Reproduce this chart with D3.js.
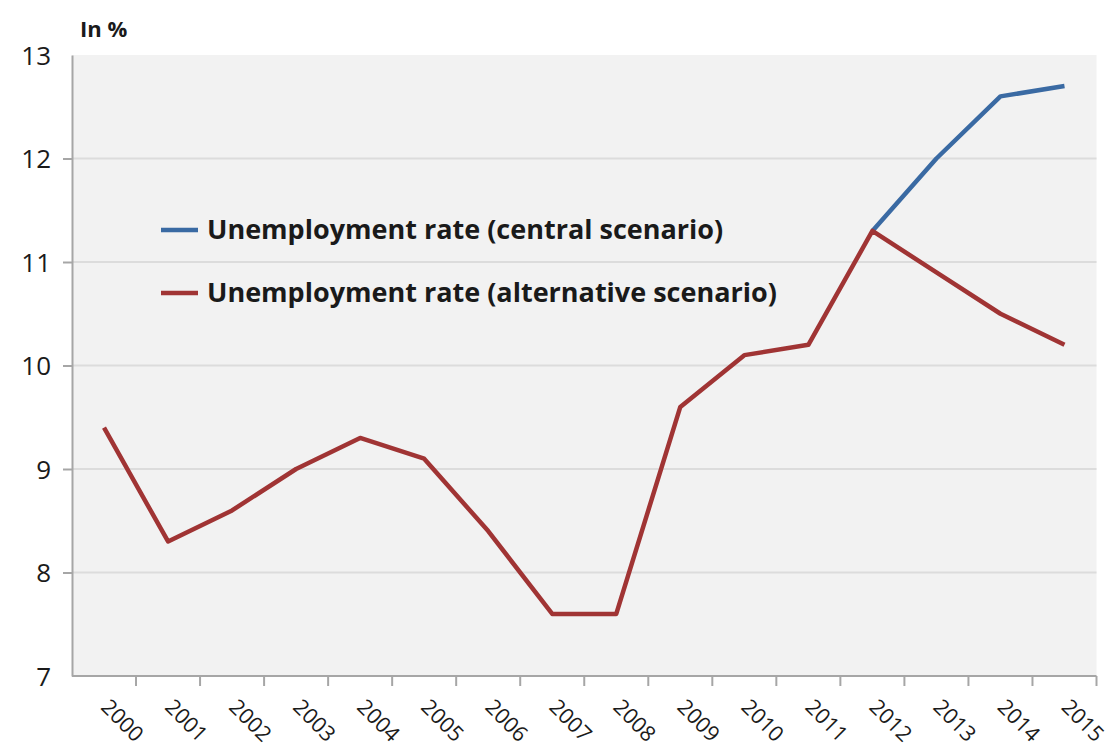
<!DOCTYPE html>
<html lang="en">
<head>
    <meta charset="UTF-8">
    <title>Unemployment rate scenarios</title>
    <style>
        body { margin: 0; background: #fff; }
        text { font-family: "Open Sans", Lato, sans-serif; fill: #1a1a1a; }
        .grid line { stroke: #dcdcdc; stroke-width: 2px; }
        .axis path, .axis line { stroke: #a6a6a6; stroke-width: 2px; }
    </style>
    <script src="https://d3js.org/d3.v7.min.js"></script>
</head>
<body>
    <script>
        const years = ["2000", "2001", "2002", "2003", "2004", "2005", "2006", "2007",
                       "2008", "2009", "2010", "2011", "2012", "2013", "2014", "2015"];
        const central = [null, null, null, null, null, null, null, null,
                         null, null, null, null, 11.3, 12.0, 12.6, 12.7];
        const alternative = [9.4, 8.3, 8.6, 9.0, 9.3, 9.1, 8.4, 7.6,
                             7.6, 9.6, 10.1, 10.2, 11.3, 10.9, 10.5, 10.2];
        const yTicks = [7, 8, 9, 10, 11, 12, 13];
        const seriesNames = ["Unemployment rate (central scenario)", "Unemployment rate (alternative scenario)"];
        const colors = ["#3a6aa3", "#a03434"];

        const width = 1112, height = 749;
        const margin = {top: 55, right: 15, bottom: 73, left: 72};

        const svg = d3.select("body").append("svg")
            .attr("width", width)
            .attr("height", height);

        const x = d3.scaleBand().domain(years)
            .range([margin.left, width - margin.right - 0.5]);
        const y = d3.scaleLinear().domain([7, 13])
            .range([height - margin.bottom, margin.top]);

        // plot background
        svg.append("rect")
            .attr("x", margin.left).attr("y", margin.top)
            .attr("width", x.range()[1] - margin.left)
            .attr("height", y(7) - y(13))
            .attr("fill", "#f2f2f2");

        // gridlines
        svg.append("g").attr("class", "grid")
            .selectAll("line").data(yTicks.filter(d => d > 7 && d < 13)).enter().append("line")
            .attr("x1", margin.left).attr("x2", x.range()[1])
            .attr("y1", d => y(d)).attr("y2", d => y(d));

        // y axis
        const yAxis = svg.append("g").attr("class", "axis")
            .attr("transform", `translate(${margin.left},0)`)
            .call(d3.axisLeft(y).tickValues(yTicks).tickFormat(d3.format("d"))
                .tickSize(9).tickSizeOuter(0).tickPadding(12));
        yAxis.selectAll("text").style("font-size", "26px").attr("dy", "0.35em");
        yAxis.selectAll(".tick").filter(d => d === 7 || d === 13).select("line").remove();

        // x axis: ticks sit between the categories
        const xg = svg.append("g").attr("class", "axis")
            .attr("transform", `translate(0,${y(7)})`);
        xg.append("line")
            .attr("x1", margin.left).attr("x2", x.range()[1]);
        xg.selectAll(".tk").data(years).enter().append("line").attr("class", "tk")
            .attr("x1", d => x(d) + x.bandwidth()).attr("x2", d => x(d) + x.bandwidth())
            .attr("y1", 0).attr("y2", 10);
        xg.selectAll("text").data(years).enter().append("text")
            .attr("transform", d => `translate(${x(d) + x.bandwidth() / 2 + 1},${27}) rotate(45)`)
            .attr("dy", "0.35em")
            .style("font-size", "21.5px")
            .text(d => d);

        // unit label
        svg.append("text")
            .attr("x", 80).attr("y", 37)
            .style("font-size", "22px").style("font-weight", "bold")
            .text("In %");

        // lines
        const line = d3.line()
            .defined(d => d != null)
            .x((d, i) => x(years[i]) + x.bandwidth() / 2)
            .y(d => y(d));

        [central, alternative].forEach((s, i) => {
            svg.append("path")
                .datum(s)
                .attr("fill", "none")
                .attr("stroke", colors[i])
                .attr("stroke-width", 4.5)
                .attr("stroke-linejoin", "round")
                .attr("d", line);
        });

        // legend
        const legend = svg.append("g");
        seriesNames.forEach((name, i) => {
            const ly = 230 + i * 63;
            legend.append("line")
                .attr("x1", 161).attr("x2", 198)
                .attr("y1", ly).attr("y2", ly)
                .attr("stroke", colors[i]).attr("stroke-width", 4.5);
            legend.append("text")
                .attr("x", 207).attr("y", ly)
                .attr("dy", "0.35em")
                .style("font-size", "27px").style("font-weight", "bold")
                .text(name);
        });
    </script>
</body>
</html>
